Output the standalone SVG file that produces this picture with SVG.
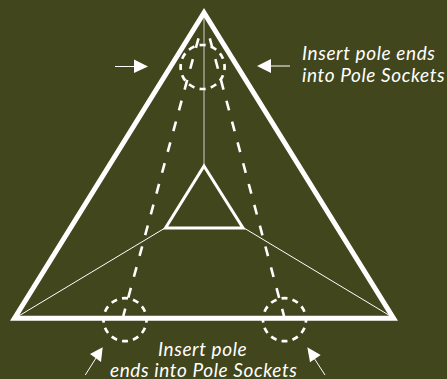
<svg xmlns="http://www.w3.org/2000/svg" width="447" height="379" viewBox="0 0 447 379">
<style>
.bg{fill:#41461d}
.out{fill:none;stroke:#fff;stroke-miterlimit:10}
.thin{fill:none;stroke:#fff;stroke-width:1}
.dash{fill:none;stroke:#fff;stroke-width:2.6;stroke-dasharray:10 11.55}
.sock{fill:none;stroke:#fff;stroke-width:2.7;stroke-dasharray:5.5 4.5;stroke-dashoffset:2.75}
.ar{fill:#fff}
.t{fill:#fff;font-family:"Lato","Liberation Sans",sans-serif;font-style:italic;font-size:19px;font-weight:400;letter-spacing:.6px}
</style>
<rect class="bg" width="447" height="379"/>
<g id="connectors">
<path class="thin" d="M204 14V165" stroke-opacity=".75"/>
<path class="thin" d="M17 317L165 228M392 317L244 228"/>
<path class="dash" d="M198.5 38.3L123.3 316"/>
<path class="dash" d="M209.8 38.3L284 316"/>
<path class="thin" d="M115 66.5H136M271 66H290M85.3 375L96 358M325 375L314 358"/>
<polygon class="ar" points="148,66.5 134,59.5 134,73"/>
<polygon class="ar" points="257,66 271,59 271,73"/>
<polygon class="ar" points="102.7,347.3 90,354 101,362"/>
<polygon class="ar" points="307.3,347.3 320.7,355 310,362.3"/>
</g>
<g id="outer-triangle"><polygon class="out" stroke-width="5" points="204,12.8 14.5,318.3 393.5,318.3"/></g>
<g id="inner-triangle"><polygon class="out" stroke-width="3" points="204,166 165.5,228 243,228"/></g>
<g id="socket-top"><circle class="sock" pathLength="120" cx="202.6" cy="67" r="22"/></g>
<g id="socket-left"><circle class="sock" pathLength="120" cx="125" cy="319.7" r="21.5"/></g>
<g id="socket-right"><circle class="sock" pathLength="120" cx="284.5" cy="319.7" r="21.5"/></g>
<g id="label-top">
<text class="t" x="302" y="60">Insert pole ends</text>
<text class="t" x="302" y="82">into Pole Sockets</text>
</g>
<g id="label-bottom">
<text class="t" x="158" y="356">Insert pole</text>
<text class="t" x="110" y="376.5">ends into Pole Sockets</text>
</g>
</svg>
